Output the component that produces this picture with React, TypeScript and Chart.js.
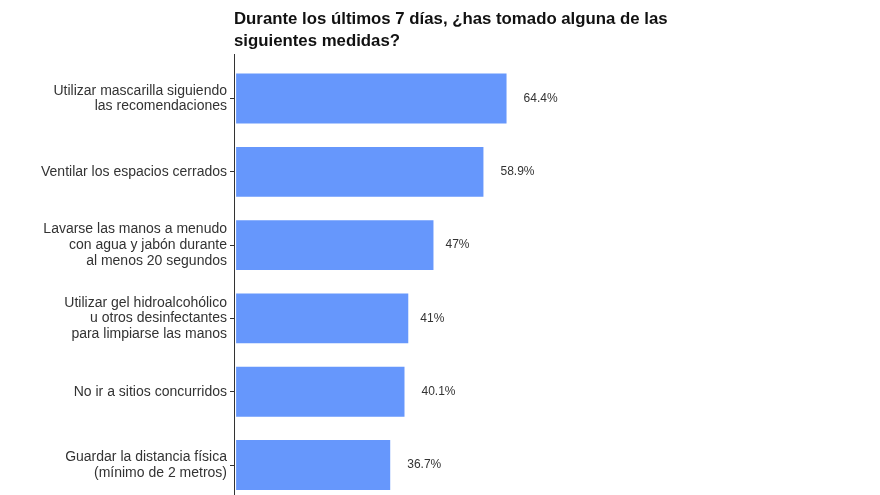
import React, { useEffect, useRef } from "react";
import { Chart, registerables } from "chart.js";

Chart.register(...registerables);

const titleLines = [
  "Durante los últimos 7 días, ¿has tomado alguna de las",
  "siguientes medidas?",
];

const categories: string[][] = [
  ["Utilizar mascarilla siguiendo", "las recomendaciones"],
  ["Ventilar los espacios cerrados"],
  ["Lavarse las manos a menudo", "con agua y jabón durante", "al menos 20 segundos"],
  ["Utilizar gel hidroalcohólico", "u otros desinfectantes", "para limpiarse las manos"],
  ["No ir a sitios concurridos"],
  ["Guardar la distancia física", "(mínimo de 2 metros)"],
];

const values = [64.4, 58.9, 47, 41, 40.1, 36.7];
const valueLabels = ["64.4%", "58.9%", "47%", "41%", "40.1%", "36.7%"];

const FONT = "'Liberation Sans', Arial, sans-serif";

const barLabelPlugin = {
  id: "barLabels",
  afterDatasetsDraw(chart: any) {
    const ctx = chart.ctx;
    const meta = chart.getDatasetMeta(0);
    ctx.save();
    ctx.font = `12px ${FONT}`;
    ctx.fillStyle = "#333333";
    ctx.textAlign = "left";
    ctx.textBaseline = "middle";
    meta.data.forEach((el: any, i: number) => {
      const text = valueLabels[i];
      const w = ctx.measureText(text).width;
      ctx.fillText(text, el.x + w * 0.5, el.y);
    });
    ctx.restore();
  },
};

export default function App() {
  const ref = useRef<HTMLCanvasElement | null>(null);

  useEffect(() => {
    if (!ref.current) return;
    Chart.defaults.font.family = FONT;
    const chart = new Chart(ref.current, {
      type: "bar",
      data: {
        datasets: [
          {
            data: values.map((v, i) => ({ x: v, y: i })),
            backgroundColor: "#6697FC",
            borderWidth: 0,
            categoryPercentage: 1,
            barPercentage: 0.68,
          },
        ],
      },
      options: {
        responsive: false,
        animation: false,
        indexAxis: "y",
        layout: { padding: { left: 0, right: 14, top: 0, bottom: 1 } },
        plugins: {
          legend: { display: false },
          tooltip: { enabled: false },
          title: {
            display: true,
            text: titleLines,
            align: "start",
            fullSize: false,
            color: "#111111",
            font: { family: FONT, size: 16.8, weight: "bold", lineHeight: 1.31 },
            padding: { top: 8, bottom: 2.5 },
          },
        },
        scales: {
          x: {
            type: "linear",
            display: false,
            min: -0.5,
            max: 150,
          },
          y: {
            type: "linear",
            position: "left",
            reverse: true,
            offset: false,
            min: -0.6,
            max: 5.6,
            afterBuildTicks: (scale: any) => {
              scale.ticks = categories.map((_, i) => ({ value: i }));
            },
            afterFit: (scale: any) => {
              scale.width = 234;
              scale.paddingTop = 0;
              scale.paddingBottom = 0;
            },
            ticks: {
              autoSkip: false,
              padding: 3,
              color: "#333333",
              font: { family: FONT, size: 14, lineHeight: 1.115 },
              callback: (v: any) => categories[v as number] ?? null,
            },
            grid: {
              display: true,
              offset: false,
              drawOnChartArea: false,
              drawTicks: true,
              tickLength: 4,
              color: "#333333",
              lineWidth: 1,
            },
            border: { display: true, color: "#333333", width: 1 },
          },
        },
      } as any,
      plugins: [barLabelPlugin],
    });
    return () => chart.destroy();
  }, []);

  return (
    <div style={{ position: "fixed", left: 0, top: 0, width: 880, height: 510, background: "#fff" }}>
      <canvas ref={ref} width={880} height={510} style={{ display: "block" }} />
    </div>
  );
}
